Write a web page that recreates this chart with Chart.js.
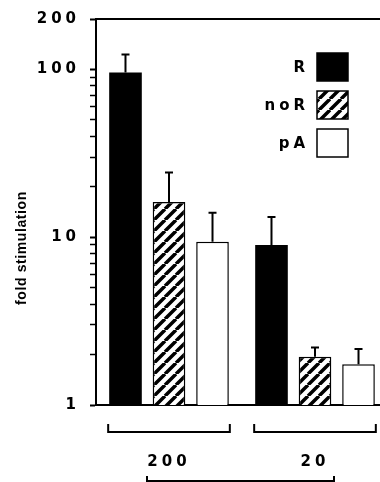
<!DOCTYPE html>
<html lang="en">
<head>
<meta charset="UTF-8">
<title>Fold stimulation</title>
<script src="https://cdn.jsdelivr.net/npm/chart.js"></script>
<style>
  html, body { margin: 0; padding: 0; background: #fff; overflow: hidden; }
  /* a little wider than the window: the plot runs off the right edge like the original */
  #wrap { width: 388px; height: 482px; }
</style>
</head>
<body>
<div id="wrap"><canvas id="foldChart"></canvas></div>
<script>
// groups along the x axis
const groups = ['200', '20'];
const seriesNames = ['R', 'noR', 'pA'];

// bar heights (fold stimulation)
const valuesR = [96, 9.0];
const valuesNoR = [16.2, 1.94];
const valuesPA = [9.4, 1.75];

// top of each error bar
const upperR = [123, 13.2];
const upperNoR = [24.3, 2.2];
const upperPA = [14.0, 2.16];

// log axis: every tick mark, and the ones that carry a label
const yTicks = [1, 2, 3, 4, 5, 6, 7, 8, 9, 10, 20, 30, 40, 50, 60, 70, 80, 90, 100, 200];
const yLabels = [1, 10, 100, 200];

const FONT = 'DejaVu Sans';
Chart.defaults.font.family = FONT;
Chart.defaults.color = '#000';

const canvas = document.getElementById('foldChart');

// diagonal hatching for the noR bars
function makeHatch() {
    const s = 11;
    const c = document.createElement('canvas');
    c.width = s;
    c.height = s;
    const g = c.getContext('2d');
    g.fillStyle = '#fff';
    g.fillRect(0, 0, s, s);
    g.strokeStyle = '#000';
    g.lineWidth = 3.5;
    g.beginPath();
    for (let k = -1; k <= 1; k++) {
        g.moveTo(k * s, s);
        g.lineTo(k * s + s, 0);
    }
    g.stroke();
    return canvas.getContext('2d').createPattern(c, 'repeat');
}

// error bars, brackets, legend and y title
const extras = {
    id: 'extras',
    beforeDraw(chart) {
        chart.ctx.letterSpacing = '4px';
    },
    afterDatasetsDraw(chart) {
        const ctx = chart.ctx;
        const area = chart.chartArea;
        const y = chart.scales.y;
        const x = chart.scales.x;
        ctx.save();
        ctx.strokeStyle = '#000';
        ctx.lineWidth = 2;

        // top frame line
        ctx.beginPath();
        ctx.moveTo(area.left, area.top);
        ctx.lineTo(chart.width, area.top);
        ctx.stroke();

        // upper error bars
        chart.data.datasets.forEach((ds, i) => {
            chart.getDatasetMeta(i).data.forEach((bar, j) => {
                const top = y.getPixelForValue(ds.upper[j]);
                ctx.beginPath();
                ctx.moveTo(bar.x, bar.y);
                ctx.lineTo(bar.x, top);
                ctx.moveTo(bar.x - 4, top);
                ctx.lineTo(bar.x + 4, top);
                ctx.stroke();
            });
        });

        // bracket under each group
        const first = chart.getDatasetMeta(0).data;
        const last = chart.getDatasetMeta(chart.data.datasets.length - 1).data;
        groups.forEach((g, j) => {
            const l = first[j].x - first[j].width / 2 - 1;
            const r = last[j].x + last[j].width / 2 + 1;
            ctx.beginPath();
            ctx.moveTo(l, 424);
            ctx.lineTo(l, 432);
            ctx.lineTo(r, 432);
            ctx.lineTo(r, 424);
            ctx.stroke();
        });

        // cut-off bracket at the very bottom
        const bl = x.getPixelForValue(0) - 22;
        const br = x.getPixelForValue(1) + 19;
        ctx.beginPath();
        ctx.moveTo(bl, 476);
        ctx.lineTo(bl, 481);
        ctx.lineTo(br, 481);
        ctx.lineTo(br, 476);
        ctx.stroke();

        // legend: label on the left, box on the right
        ctx.font = 'bold 15px ' + FONT;
        ctx.textAlign = 'right';
        ctx.textBaseline = 'middle';
        chart.data.datasets.forEach((ds, i) => {
            const top = 53 + i * 38;
            ctx.fillStyle = ds.backgroundColor;
            ctx.fillRect(317, top, 31, 28);
            ctx.lineWidth = 1.5;
            ctx.strokeRect(317, top, 31, 28);
            ctx.fillStyle = '#000';
            ctx.fillText(ds.label, 309, top + 15);
        });

        // y axis title
        ctx.translate(22, 248);
        ctx.rotate(-Math.PI / 2);
        ctx.letterSpacing = '0.6px';
        ctx.font = 'bold 14px "Liberation Sans"';
        ctx.textAlign = 'center';
        ctx.fillText('fold stimulation', 0, 0);
        ctx.restore();
    }
};

const hatch = makeHatch();

new Chart(canvas, {
    type: 'bar',
    data: {
        labels: groups,
        datasets: [
            { label: seriesNames[0], data: valuesR, upper: upperR, backgroundColor: '#000', borderColor: '#000', borderWidth: 0 },
            { label: seriesNames[1], data: valuesNoR, upper: upperNoR, backgroundColor: hatch, borderColor: '#000', borderWidth: 1.5 },
            { label: seriesNames[2], data: valuesPA, upper: upperPA, backgroundColor: '#fff', borderColor: '#000', borderWidth: 1.5 }
        ]
    },
    options: {
        responsive: true,
        maintainAspectRatio: false,
        animation: false,
        categoryPercentage: 0.894,
        barPercentage: 0.75,
        layout: { padding: { top: 18, right: 0, left: 0, bottom: 0 } },
        plugins: {
            legend: { display: false },
            tooltip: { enabled: false }
        },
        scales: {
            x: {
                grid: { display: false },
                border: { display: true, color: '#000', width: 2 },
                ticks: { color: '#000', font: { size: 15, weight: 'bold' }, padding: 40 },
                afterFit(scale) { scale.height = 77; }
            },
            y: {
                type: 'logarithmic',
                min: 1,
                max: 200,
                afterBuildTicks(scale) {
                    scale.ticks = yTicks.map(v => ({ value: v }));
                },
                afterFit(scale) { scale.width = 96; },
                grid: {
                    drawOnChartArea: false,
                    color: '#000',
                    tickLength: 6,
                    tickWidth: c => (yLabels.includes(c.tick.value) ? 2 : 1.5)
                },
                border: { color: '#000', width: 2 },
                ticks: {
                    color: '#000',
                    autoSkip: false,
                    padding: 10,
                    font: { size: 15, weight: 'bold' },
                    callback: v => (yLabels.includes(v) ? String(v) : '')
                }
            }
        }
    },
    plugins: [extras]
});
</script>
</body>
</html>
